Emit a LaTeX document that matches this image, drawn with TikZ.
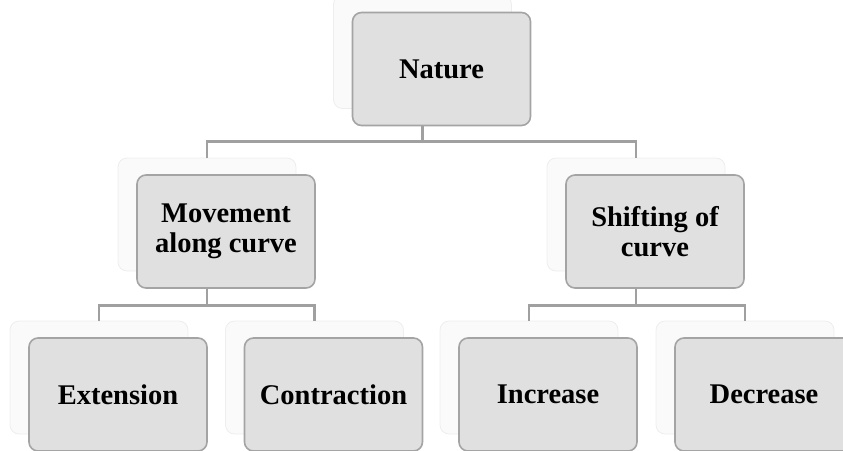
\documentclass[tikz,border=0pt]{standalone}
\usepackage{fontspec}
\setmainfont{Liberation Serif}
\definecolor{boxfill}{HTML}{E0E0E0}
\definecolor{boxline}{HTML}{A4A4A4}
\definecolor{connline}{HTML}{A0A0A0}
\definecolor{shadefill}{HTML}{FAFAFA}
\definecolor{shadeline}{HTML}{EEEEEE}
\tikzset{
  mainbox/.style={draw=boxline, line width=1.6pt, fill=boxfill, rounded corners=9pt,
    minimum width=178pt, minimum height=113pt, inner sep=0pt, align=center,
    font=\fontsize{28.5}{30}\selectfont\bfseries},
  shadebox/.style={draw=shadeline, line width=0.8pt, fill=shadefill, rounded corners=9pt,
    minimum width=178pt, minimum height=113pt, inner sep=0pt},
  conn/.style={draw=connline, line width=2.6pt}
}
\begin{document}
\begin{tikzpicture}[x=1pt,y=-1pt]
\useasboundingbox (0,0) rectangle (843,450);
\clip (0,0) rectangle (843,450);
% shadow boxes
\node[shadebox] (sNat) at (422.5,52) {};
\node[shadebox] (sMov) at (207,214.5) {};
\node[shadebox] (sShi) at (636,214.5) {};
\node[shadebox] (sExt) at (99,377.5) {};
\node[shadebox] (sCon) at (314.5,377.5) {};
\node[shadebox] (sInc) at (529,377.5) {};
\node[shadebox] (sDec) at (745,377.5) {};
% connectors
\draw[conn] (sNat.south) -- ++(0,32.5) -| (sMov.north);
\draw[conn] (sNat.south) -- ++(0,32.5) -| (sShi.north);
\draw[conn] (sMov.south) -- ++(0,34) -| (sExt.north);
\draw[conn] (sMov.south) -- ++(0,34) -| (sCon.north);
\draw[conn] (sShi.south) -- ++(0,34) -| (sInc.north);
\draw[conn] (sShi.south) -- ++(0,34) -| (sDec.north);
% main boxes
\node[mainbox] (nat) at (441.5,69) {Nature};
\node[mainbox] (mov) at (226,231.5) {Movement\\along curve};
\node[mainbox] (shi) at (655,231.5) {Shifting of\\curve};
\node[mainbox] (ext) at (118,394.5) {Extension};
\node[mainbox] (con) at (333.5,394.5) {Contraction};
\node[mainbox] (inc) at (548,394.5) {Increase};
\node[mainbox] (dec) at (764,394.5) {Decrease};
\end{tikzpicture}
\end{document}
